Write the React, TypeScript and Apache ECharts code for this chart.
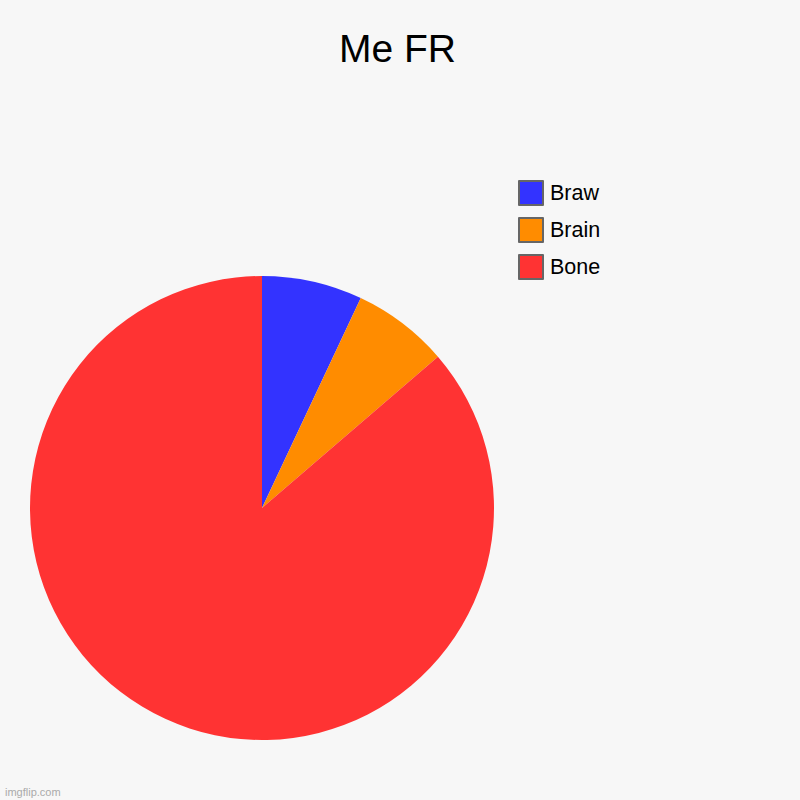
import React, { useRef, useEffect } from "react";
import * as echarts from "echarts";

const categories = ["Braw", "Brain", "Bone"];
const values = [7, 6.7, 86.3];
const colors = ["#3333ff", "#ff8c00", "#ff3333"];

const App = function () {
  const chart = useRef<HTMLDivElement>(null);
  useEffect(() => {
    if (!chart.current) return;
    const myChart = echarts.init(chart.current, null, { renderer: "svg" });
    const option = {
      animation: false,
      backgroundColor: "#f7f7f7",
      textStyle: { fontFamily: "Liberation Sans, Arial, sans-serif" },
      title: {
        text: "Me FR",
        left: 334,
        top: 24,
        textStyle: {
          fontSize: 39,
          fontWeight: "normal",
          color: "#000",
          fontFamily: "Liberation Sans, Arial, sans-serif",
        },
      },
      legend: {
        orient: "vertical",
        left: 518,
        top: 180,
        padding: 0,
        itemWidth: 24,
        itemHeight: 24,
        itemGap: 11,
        icon: "rect",
        data: categories,
        itemStyle: { borderColor: "#666", borderWidth: 2 },
        textStyle: { fontSize: 21.5, color: "#000", padding: [0, 0, 0, 2] },
      },
      graphic: [
        {
          type: "text",
          left: 5,
          bottom: 3,
          style: {
            text: "imgflip.com",
            fill: "#aaa",
            fontSize: 11,
            fontFamily: "Liberation Sans, Arial, sans-serif",
          },
        },
      ],
      series: [
        {
          type: "pie",
          center: [262, 508],
          radius: 232,
          startAngle: 90,
          clockwise: true,
          label: { show: false },
          labelLine: { show: false },
          emphasis: { disabled: true },
          data: categories.map((name, i) => ({
            name,
            value: values[i],
            itemStyle: { color: colors[i] },
          })),
        },
      ],
    };
    myChart.setOption(option);
    return () => {
      myChart.dispose();
    };
  }, []);
  return (
    <div
      ref={chart}
      style={{ position: "fixed", left: 0, top: 0, width: 800, height: 800 }}
    ></div>
  );
};
export default App;
